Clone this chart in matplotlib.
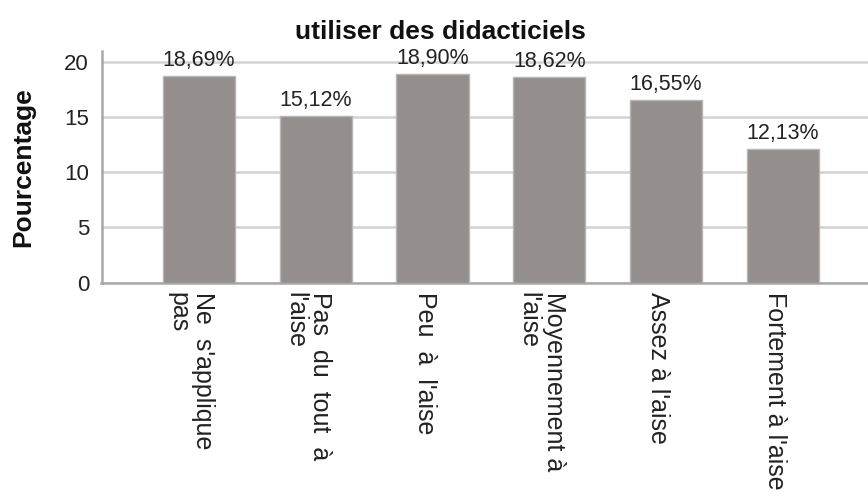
import matplotlib
matplotlib.use('Agg')
import matplotlib.pyplot as plt
import matplotlib.transforms as mtransforms

# response categories and their shares (%)
categories = ["Ne  s'applique\npas", "Pas  du  tout  à\nl'aise", "Peu  à  l'aise",
              "Moyennement à\nl'aise", "Assez à l'aise", "Fortement à l'aise"]
percentages = [18.69, 15.12, 18.90, 18.62, 16.55, 12.13]
yticks = [0, 5, 10, 15, 20]

plt.rcParams['font.family'] = ['Liberation Sans', 'DejaVu Sans']

fig = plt.figure(figsize=(8.68, 4.98), dpi=100)
ax = fig.add_axes([101.5 / 868, 1 - 282.7 / 498, 1 - 101.5 / 868, (282.7 - 50.7) / 498])

pos = list(range(len(categories)))
ax.bar(pos, percentages, width=0.617, color='#948f8d', edgecolor='#b8b6b5',
       linewidth=1.0, zorder=3)

# value labels above each bar
for x, v in zip(pos, percentages):
    ax.text(x, v + 0.45, ('%.2f%%' % v).replace('.', ','), ha='center', va='bottom',
            fontsize=15.5, color='#222222', zorder=4)

ax.set_xlim(-0.835, 5.73)
ax.set_ylim(0, 21)
ax.set_yticks(yticks)
ax.set_yticklabels([str(t) for t in yticks], fontsize=16, color='#222222')
ax.set_xticks(pos)
ax.set_xticklabels(categories, rotation=270, fontsize=18, color='#222222',
                   ha='center', va='top', multialignment='left', linespacing=1.05)
ax.tick_params(axis='both', length=0)
ax.tick_params(axis='y', pad=9)
ax.tick_params(axis='x', pad=7)

# nudge the rotated category labels a little to the left
shift = mtransforms.ScaledTranslation(-8 / 100, 0, fig.dpi_scale_trans)
for lbl in ax.get_xticklabels():
    lbl.set_transform(lbl.get_transform() + shift)

ax.yaxis.grid(True, color='#d2d2d2', linewidth=1.8, zorder=0)
ax.set_axisbelow(True)
for side in ['top', 'right']:
    ax.spines[side].set_visible(False)
for side in ['left', 'bottom']:
    ax.spines[side].set_color('#a8a8a8')
    ax.spines[side].set_linewidth(1.8)

# axis title and chart title placed in figure coordinates
fig.text(23 / 868, 1 - 167 / 498, 'Pourcentage', rotation=90, ha='center', va='center',
         fontsize=19, fontweight='bold', color='#111111')
fig.text(440 / 868, 1 - 32 / 498, 'utiliser des didacticiels', ha='center', va='center',
         fontsize=19, fontweight='bold', color='#111111')

fig.savefig('out.png', dpi=100)
